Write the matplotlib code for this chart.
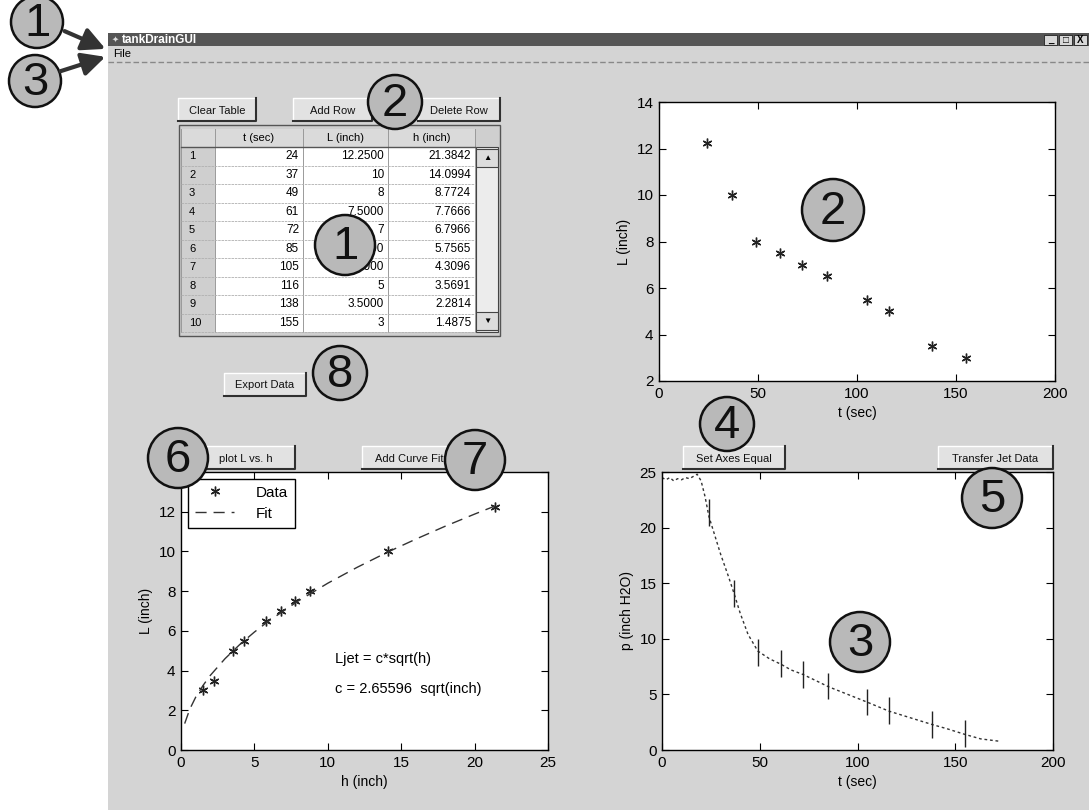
import matplotlib.pyplot as plt
from matplotlib.patches import Rectangle, Circle, FancyArrowPatch

plt.rcParams['font.family'] = ['Liberation Sans', 'DejaVu Sans']

# table data
t_sec = [24, 37, 49, 61, 72, 85, 105, 116, 138, 155]
L_inch = [12.25, 10, 8, 7.5, 7, 6.5, 5.5, 5, 3.5, 3]
h_inch = [21.3842, 14.0994, 8.7724, 7.7666, 6.7966, 5.7565, 4.3096, 3.5691, 2.2814, 1.4875]
L_cells = ['12.2500', '10', '8', '7.5000', '7', '6.5000', '5.5000', '5', '3.5000', '3']
col_names = ['t (sec)', 'L (inch)', 'h (inch)']

# curve fit L = c*sqrt(h)
c_fit = 2.65596
h_fit = [0.25, 0.6, 1.0, 1.5, 2.0, 3.0, 4.0, 5.0, 6.0, 8.0, 10.0, 12.0, 14.0, 16.0, 18.0, 20.0, 21.4]
L_fit = [1.33, 2.06, 2.66, 3.25, 3.76, 4.6, 5.31, 5.94, 6.51, 7.51, 8.4, 9.2, 9.94, 10.62, 11.27, 11.88, 12.29]

# pressure trace (inch H2O) vs time
t_trace = [0, 2, 4, 6, 8, 10, 12, 14, 16, 18, 20, 22, 24, 27, 30, 34, 37, 40, 44, 49, 55, 61, 66, 72,
           78, 85, 95, 105, 116, 127, 138, 146, 155, 163, 172]
p_trace = [24.5, 24.3, 24.5, 24.2, 24.4, 24.3, 24.5, 24.4, 24.6, 24.8, 24.2, 22.8, 21.0, 19.3, 17.6, 15.6,
           14.0, 12.3, 10.4, 8.9, 8.2, 7.7, 7.2, 6.8, 6.3, 5.7, 5.0, 4.3, 3.5, 2.9, 2.3, 1.9, 1.4, 1.0, 0.8]
p_err = 1.2

# callouts (x px, y px, radius px, label)
callouts = [(37, 22, 26, '1'), (35, 81, 26, '3'), (395, 102, 27, '2'), (345, 245, 30, '1'),
            (833, 210, 31, '2'), (340, 373, 27, '8'), (727, 424, 27, '4'), (178, 458, 30, '6'),
            (475, 460, 30, '7'), (992, 498, 30, '5'), (860, 642, 30, '3')]

W, H = 1089, 810
fig = plt.figure(figsize=(W / 100, H / 100), dpi=100)


def box(l, t, r, b):
    return [l / W, 1 - b / H, (r - l) / W, (b - t) / H]


def button(ax, l, t, r, b, label):
    ax.add_patch(Rectangle((l, t), r - l, b - t, fc='#e2e2e2', ec='none'))
    ax.plot([l, l, r], [b, t, t], color='white', lw=1)
    ax.plot([l, r, r], [b, b, t], color='#303030', lw=1.5)
    ax.text((l + r) / 2, (t + b) / 2 + 1, label, ha='center', va='center', fontsize=8, color='#111')


def style(ax):
    ax.tick_params(direction='in', length=5, top=True, right=True, labelsize=11, pad=4)
    for s in ax.spines.values():
        s.set_linewidth(1)
    ax.xaxis.label.set_size(10)
    ax.yaxis.label.set_size(10)


star = dict(ls='none', marker=(6, 2, 0), ms=7, mew=1, color='#222')

# background / window
bg = fig.add_axes([0, 0, 1, 1], zorder=-5)
bg.set_xlim(0, W)
bg.set_ylim(H, 0)
bg.axis('off')
bg.add_patch(Rectangle((108, 33), W - 108, H - 33, fc='#d4d4d4', ec='none'))
bg.add_patch(Rectangle((108, 33), W - 108, 13, fc='#555555', ec='none'))
bg.text(112, 40, '\u2726', color='#ddd', fontsize=6, va='center')
bg.text(122, 40, 'tankDrainGUI', color='white', fontsize=8.5, fontweight='bold', va='center')
for i, sym in enumerate(['_', '\u25a1', 'X']):
    x0 = 1044 + i * 15
    bg.add_patch(Rectangle((x0, 35), 13, 10, fc='#d8d8d8', ec='#222', lw=0.6))
    bg.text(x0 + 6.5, 40, sym, ha='center', va='center', fontsize=7, fontweight='bold')
bg.text(113, 54, 'File', fontsize=8, va='center')
bg.plot([108, W], [62, 62], color='#888', lw=1, ls=(0, (4, 2)))

# table
tl, tr, ht, hb = 181, 498, 129, 147
cols = [181, 215, 303, 388, 475]
row_h = 18.5
tb = hb + row_h * len(t_sec)
bg.add_patch(Rectangle((tl - 2, ht - 4), tr - tl + 4, tb - ht + 8, fc='#cfcfcf', ec='#555', lw=1))
bg.add_patch(Rectangle((cols[1], hb), cols[4] - cols[1], tb - hb, fc='white', ec='none'))
bg.add_patch(Rectangle((cols[0], ht), cols[4] - cols[0], hb - ht, fc='#dadada', ec='none'))
for j, name in enumerate(col_names):
    bg.text((cols[j + 1] + cols[j + 2]) / 2, (ht + hb) / 2, name, ha='center', va='center', fontsize=8)
for x in cols:
    bg.plot([x, x], [ht, tb], color='#9a9a9a', lw=0.7)
for i in range(len(t_sec) + 1):
    y = hb + i * row_h
    bg.plot([cols[0], cols[4]], [y, y], color='#b0b0b0', lw=0.6, ls=(0, (3, 1)))
bg.plot([cols[0], cols[4]], [hb, hb], color='#555', lw=1)
for i in range(len(t_sec)):
    yc = hb + (i + 0.5) * row_h
    bg.text(cols[0] + 8, yc, str(i + 1), va='center', fontsize=8)
    bg.text(cols[2] - 4, yc, str(t_sec[i]), ha='right', va='center', fontsize=8.5)
    bg.text(cols[3] - 4, yc, L_cells[i], ha='right', va='center', fontsize=8.5)
    bg.text(cols[4] - 4, yc, '%.4f' % h_inch[i], ha='right', va='center', fontsize=8.5)
bg.add_patch(Rectangle((476, hb), 22, tb - hb, fc='#ececec', ec='#444', lw=0.8))
bg.add_patch(Rectangle((476, hb + 2), 22, 18, fc='#dcdcdc', ec='#444', lw=0.8))
bg.add_patch(Rectangle((476, tb - 20), 22, 18, fc='#dcdcdc', ec='#444', lw=0.8))
bg.text(487, hb + 11, '\u25b2', ha='center', va='center', fontsize=6)
bg.text(487, tb - 11, '\u25bc', ha='center', va='center', fontsize=6)

button(bg, 178, 98, 256, 121, 'Clear Table')
button(bg, 293, 98, 372, 121, 'Add Row')
button(bg, 418, 98, 500, 121, 'Delete Row')
button(bg, 224, 373, 306, 396, 'Export Data')
button(bg, 197, 446, 295, 469, 'plot L vs. h')
button(bg, 362, 446, 456, 469, 'Add Curve Fit')
button(bg, 683, 446, 785, 469, 'Set Axes Equal')
button(bg, 938, 446, 1053, 469, 'Transfer Jet Data')

# L vs t
ax1 = fig.add_axes(box(659, 102, 1055, 381))
ax1.plot(t_sec, L_inch, **star)
ax1.set_xlim(0, 200)
ax1.set_ylim(2, 14)
ax1.set_xticks([0, 50, 100, 150, 200])
ax1.set_yticks([2, 4, 6, 8, 10, 12, 14])
ax1.set_xlabel('t (sec)')
ax1.set_ylabel('L (inch)')
style(ax1)

# L vs h with fit
ax2 = fig.add_axes(box(181, 472, 548, 750))
ax2.plot(h_inch, L_inch, label='Data', **star)
ax2.plot(h_fit, L_fit, ls=(0, (8, 5)), lw=1, color='#333', label='Fit')
ax2.set_xlim(0, 25)
ax2.set_ylim(0, 14)
ax2.set_xticks([0, 5, 10, 15, 20, 25])
ax2.set_yticks([0, 2, 4, 6, 8, 10, 12, 14])
ax2.set_yticklabels(['0', '2', '4', '6', '8', '10', '12', ''])
ax2.set_xlabel('h (inch)')
ax2.set_ylabel('L (inch)')
ax2.text(10.5, 4.6, 'Ljet = c*sqrt(h)', fontsize=10.5, va='center')
ax2.text(10.5, 3.05, 'c = %.5f  sqrt(inch)' % c_fit, fontsize=10.5, va='center')
leg = ax2.legend(loc='upper left', fontsize=11, fancybox=False, framealpha=1, edgecolor='black',
                 borderaxespad=0.45, handlelength=2.6, handletextpad=1.4, borderpad=0.45, labelspacing=0.45)
leg.get_frame().set_linewidth(1)
style(ax2)

# pressure vs t
ax3 = fig.add_axes(box(662, 472, 1053, 750))
ax3.plot(t_trace, p_trace, ls=(0, (2, 2)), lw=1, color='#333')
ax3.errorbar(t_sec, h_inch, yerr=p_err, fmt='none', ecolor='#222', elinewidth=1, capsize=0)
ax3.set_xlim(0, 200)
ax3.set_ylim(0, 25)
ax3.set_xticks([0, 50, 100, 150, 200])
ax3.set_yticks([0, 5, 10, 15, 20, 25])
ax3.set_xlabel('t (sec)')
ax3.set_ylabel('p (inch H2O)')
style(ax3)

# callout circles and arrows on top
top = fig.add_axes([0, 0, 1, 1], zorder=20)
top.set_xlim(0, W)
top.set_ylim(H, 0)
top.axis('off')
top.patch.set_alpha(0)
for x, y, r, lab in callouts:
    top.add_patch(Circle((x, y), r, fc='#b9b9b9', ec='#111', lw=1.8))
    top.text(x, y + 2, lab, ha='center', va='center', fontsize=34, color='#111')
for (x0, y0), (x1, y1) in [((62, 30), (108, 50)), ((58, 72), (108, 56))]:
    top.add_patch(FancyArrowPatch((x0, y0), (x1, y1), arrowstyle='-|>,head_length=14,head_width=7',
                                  mutation_scale=1, color='#333', lw=3))

fig.savefig('out.png', dpi=100)
